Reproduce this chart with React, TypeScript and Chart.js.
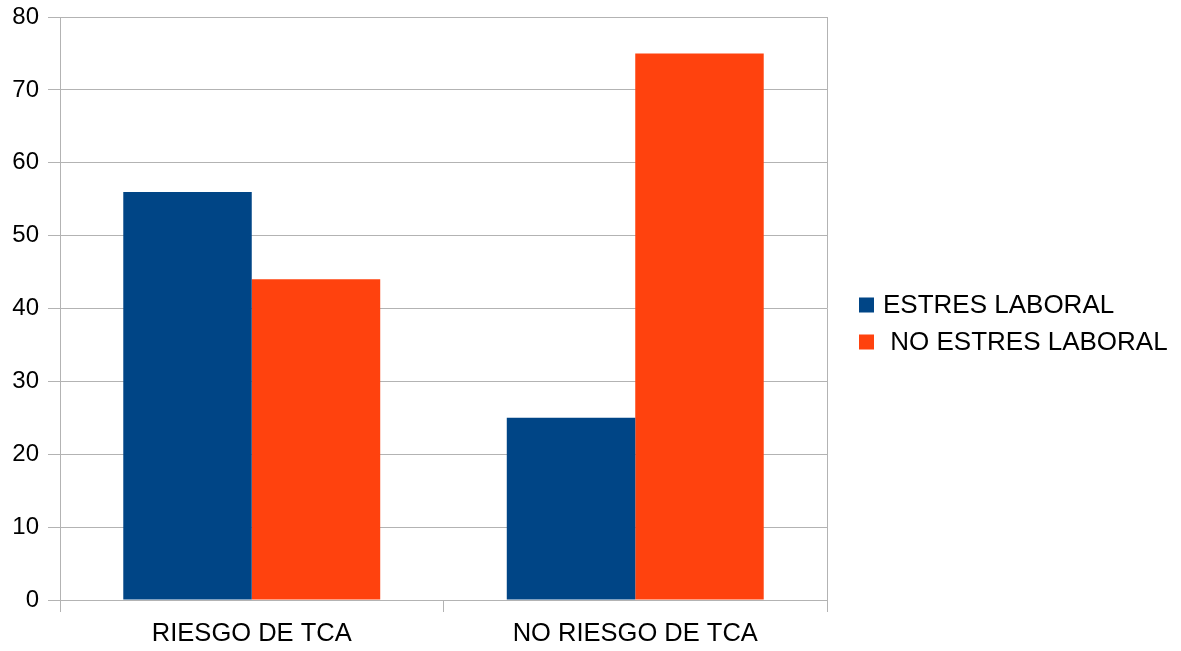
import React, { useEffect, useRef } from "react";
import { Chart, registerables } from "chart.js";

Chart.register(...registerables);

const categories = ["RIESGO DE TCA", "NO RIESGO DE TCA"];
const seriesNames = ["ESTRES LABORAL", " NO ESTRES LABORAL"];
const estresLaboral = [56, 25];
const noEstresLaboral = [44, 75];
const seriesColors = ["#004586", "#ff420e"];
const yTicks = { min: 0, max: 80, step: 10 };

const GRID = "#b3b3b3";
const FONT = "'Liberation Sans', Arial, sans-serif";

// Legend drawn on the right, next to the middle of the plot area
const sideLegend = {
  id: "sideLegend",
  afterDraw(chart: any) {
    const { ctx, chartArea } = chart;
    const mid = (chartArea.top + chartArea.bottom) / 2;
    const rowGap = 37;
    const x0 = chartArea.right + 32;
    ctx.save();
    ctx.font = `26px ${FONT}`;
    ctx.textBaseline = "middle";
    ctx.textAlign = "left";
    chart.data.datasets.forEach((ds: any, i: number) => {
      const y = mid - 3.5 + i * rowGap;
      ctx.fillStyle = ds.backgroundColor;
      ctx.fillRect(x0, y - 7.5, 15, 15);
      ctx.fillStyle = "#000";
      ctx.fillText(ds.label, x0 + 24, y + 1);
    });
    ctx.restore();
  },
};

export default function App() {
  const ref = useRef<HTMLCanvasElement>(null);

  useEffect(() => {
    if (!ref.current) return;
    const chart = new Chart(ref.current, {
      type: "bar",
      data: {
        labels: categories,
        datasets: [
          {
            label: seriesNames[0],
            data: estresLaboral,
            backgroundColor: seriesColors[0],
            categoryPercentage: 0.67,
            barPercentage: 1.0,
          },
          {
            label: seriesNames[1],
            data: noEstresLaboral,
            backgroundColor: seriesColors[1],
            categoryPercentage: 0.67,
            barPercentage: 1.0,
          },
        ],
      },
      plugins: [sideLegend],
      options: {
        animation: false,
        responsive: false,
        layout: { padding: { top: 17, right: 354, left: 0, bottom: 0 } },
        plugins: {
          legend: { display: false },
          tooltip: { enabled: false },
        },
        scales: {
          x: {
            grid: {
              offset: true,
              color: (c: any) => (c.index === 1 ? "rgba(0,0,0,0)" : GRID),
              tickColor: GRID,
              tickLength: 12,
              lineWidth: 1,
            },
            border: { display: true, color: GRID },
            ticks: {
              color: "#000",
              font: { family: FONT, size: 25.5 },
              padding: 7,
            },
            afterFit: (s: any) => {
              s.height = 51;
              s.paddingLeft = 0;
              s.paddingRight = 0;
            },
          },
          y: {
            min: yTicks.min,
            max: yTicks.max,
            grid: { color: GRID, tickColor: GRID, tickLength: 12 },
            border: { display: true, color: GRID },
            ticks: {
              stepSize: yTicks.step,
              color: "#000",
              font: { family: FONT, size: 24 },
              padding: 9,
            },
            afterFit: (s: any) => {
              s.width = 60;
              s.paddingTop = 0;
              s.paddingBottom = 0;
            },
          },
        },
      },
    });
    return () => chart.destroy();
  }, []);

  return (
    <div style={{ position: "fixed", left: 0, top: 0, width: 1181, height: 651, background: "#fff" }}>
      <canvas ref={ref} width={1181} height={651} />
    </div>
  );
}
